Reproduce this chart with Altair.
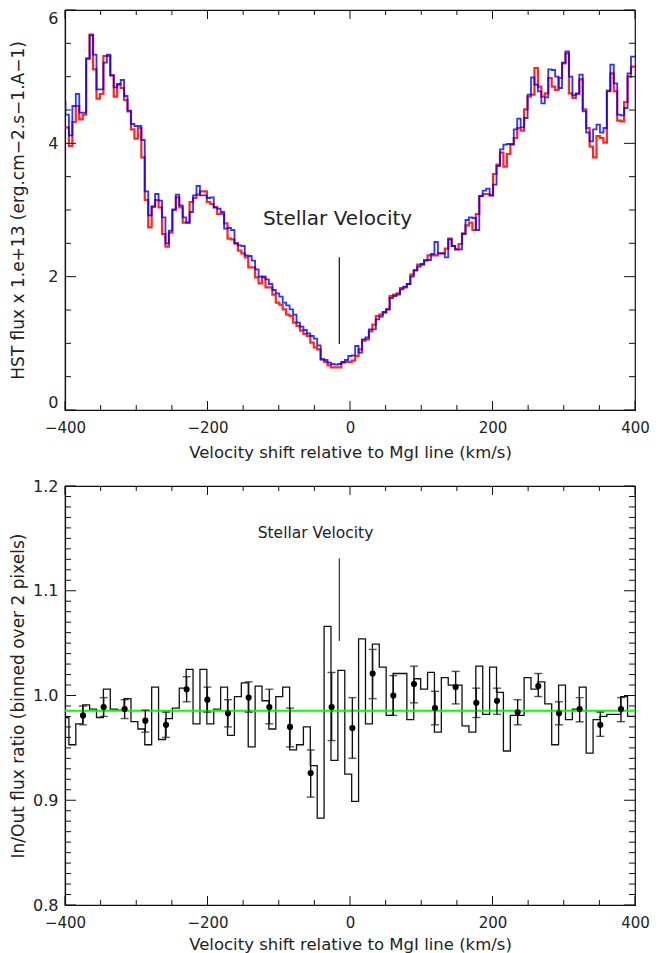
import altair as alt
import pandas as pd

FONT = "DejaVu Sans"

# ---------------- top panel: spectra (step, one value per pixel) ----------------
TOP_VEL_START = -404.2   # left edge of first pixel (km/s)
TOP_PIX = 4.84           # pixel width (km/s)

blue_flux = [4.63, 4.43, 4.12, 4.56, 4.74, 4.46, 4.46, 5.27, 5.62, 5.33,
             4.81, 4.81, 5.21, 5.33, 5.02, 4.84, 4.89, 4.95, 4.71, 4.49,
             4.29, 4.26, 4.26, 4.05, 3.28, 2.92, 3.05, 3.24, 3.14, 2.89,
             2.50, 2.69, 3.01, 3.23, 3.07, 2.89, 2.81, 2.97, 3.22, 3.36,
             3.22, 3.22, 3.18, 3.19, 3.04, 3.02, 2.97, 2.72, 2.73, 2.70,
             2.50, 2.47, 2.46, 2.32, 2.31, 2.24, 2.11, 2.00, 1.99, 1.96,
             1.89, 1.80, 1.75, 1.70, 1.61, 1.57, 1.51, 1.43, 1.31, 1.25,
             1.20, 1.15, 1.11, 1.07, 0.97, 0.76, 0.75, 0.71, 0.69, 0.68,
             0.69, 0.72, 0.75, 0.81, 0.82, 0.96, 0.86, 1.06, 1.09, 1.21,
             1.21, 1.36, 1.40, 1.47, 1.51, 1.68, 1.71, 1.73, 1.81, 1.85,
             1.89, 2.00, 2.09, 2.15, 2.19, 2.24, 2.25, 2.34, 2.52, 2.35,
             2.35, 2.29, 2.56, 2.46, 2.41, 2.41, 2.64, 2.85, 2.89, 2.88,
             2.70, 3.21, 3.29, 3.32, 3.22, 3.38, 3.66, 3.91, 3.98, 3.99,
             3.99, 4.21, 4.37, 4.24, 4.38, 4.73, 4.99, 4.88, 4.78, 4.60,
             4.69, 5.11, 5.10, 5.00, 4.83, 5.21, 5.38, 5.00, 4.72, 4.75,
             5.03, 4.48, 4.16, 4.03, 4.21, 4.28, 4.16, 4.23, 4.78, 5.18,
             4.90, 4.43, 4.42, 4.53, 5.05, 5.30]

red_flux = [4.24, 4.24, 3.96, 4.32, 4.56, 4.36, 4.43, 5.27, 5.63, 5.11,
            4.67, 4.74, 5.31, 5.31, 5.02, 4.70, 4.88, 4.83, 4.65, 4.48,
            4.21, 4.07, 4.23, 3.79, 3.15, 2.74, 3.05, 3.15, 3.04, 2.64,
            2.45, 2.66, 3.00, 3.19, 3.04, 2.81, 2.81, 3.12, 3.18, 3.23,
            3.28, 3.28, 3.12, 3.09, 3.04, 2.94, 2.94, 2.80, 2.57, 2.56,
            2.50, 2.39, 2.35, 2.29, 2.14, 2.14, 1.99, 1.90, 2.00, 1.84,
            1.84, 1.73, 1.61, 1.58, 1.51, 1.43, 1.41, 1.31, 1.26, 1.19,
            1.14, 1.11, 1.01, 0.94, 0.91, 0.76, 0.72, 0.67, 0.64, 0.64,
            0.64, 0.71, 0.72, 0.72, 0.74, 0.81, 0.91, 1.04, 1.06, 1.18,
            1.28, 1.41, 1.43, 1.46, 1.51, 1.71, 1.73, 1.75, 1.83, 1.84,
            1.89, 2.03, 2.10, 2.18, 2.18, 2.25, 2.32, 2.32, 2.32, 2.35,
            2.35, 2.42, 2.57, 2.46, 2.41, 2.49, 2.65, 2.77, 2.81, 2.70,
            2.94, 3.21, 3.24, 3.24, 3.22, 3.54, 3.68, 3.86, 3.65, 3.84,
            3.98, 4.08, 4.23, 4.19, 4.51, 4.70, 4.73, 5.13, 4.85, 4.70,
            4.75, 4.98, 4.85, 4.80, 4.98, 5.20, 5.35, 4.75, 4.68, 4.74,
            4.96, 4.51, 4.23, 3.95, 3.79, 4.11, 4.08, 4.01, 4.79, 5.05,
            4.78, 4.34, 4.33, 4.62, 5.00, 5.15]

# ---------------- bottom panel: ratio binned over 2 pixels ----------------
BOT_VEL_START = -404.2
BOT_BIN = 9.68

ratio_binned = [0.979, 0.953, 0.973, 0.991, 0.987, 0.979, 1.006, 0.987, 0.986, 0.997,
                0.975, 0.968, 0.953, 1.008, 0.958, 0.978, 0.988, 1.007, 1.025, 0.973,
                1.025, 0.973, 0.987, 1.008, 0.962, 0.999, 1.012, 0.951, 1.009, 0.995,
                0.968, 0.999, 1.008, 0.948, 0.953, 0.970, 0.933, 0.883, 1.066, 0.938,
                1.024, 0.925, 0.899, 1.054, 0.973, 1.049, 1.027, 0.981, 1.021, 1.021,
                0.977, 1.016, 1.006, 1.022, 0.965, 1.017, 1.010, 1.010, 0.971, 0.965,
                1.028, 0.982, 1.027, 1.003, 0.947, 0.981, 0.981, 1.017, 1.006, 1.013,
                0.992, 0.953, 1.010, 0.977, 0.987, 1.008, 0.945, 0.977, 0.980, 0.982,
                0.982, 0.999, 0.980]

pt_vel = [-374.7, -345.7, -316.3, -287.3, -258.2, -229.3, -200.2, -171.3, -142.2,
          -113.2, -84.2, -55.2, -25.8, 3.3, 31.8, 60.8, 89.8, 119.3, 148.3, 177.3,
          206.3, 235.3, 264.3, 293.3, 322.3, 351.3, 380.3]
pt_ratio = [0.981, 0.989, 0.987, 0.976, 0.972, 1.006, 0.996, 0.983, 0.998,
            0.989, 0.970, 0.926, 0.989, 0.969, 1.021, 1.000, 1.011, 0.988, 1.008, 0.993,
            0.995, 0.984, 1.009, 0.983, 0.987, 0.972, 0.987]
pt_low = [0.972, 0.980, 0.978, 0.965, 0.960, 0.994, 0.984, 0.970, 0.984,
          0.973, 0.951, 0.903, 0.957, 0.940, 0.997, 0.981, 0.993, 0.972, 0.992, 0.979,
          0.982, 0.972, 0.999, 0.972, 0.975, 0.961, 0.975]
pt_high = [0.990, 0.998, 0.996, 0.986, 0.984, 1.018, 1.008, 0.996, 1.013,
           1.006, 0.988, 0.948, 1.022, 0.998, 1.044, 1.019, 1.028, 1.004, 1.023, 1.007,
           1.007, 0.996, 1.021, 0.994, 0.998, 0.984, 0.998]

MEAN_RATIO = 0.9855
STELLAR_VEL = -15.0

# axis ticks
X_MAJOR = [-400, -200, 0, 200, 400]
X_MINOR = [-350, -300, -250, -150, -100, -50, 50, 100, 150, 250, 300, 350]
TOP_Y_MAJOR = [0, 2, 4, 6]
TOP_Y_MINOR = [0.5, 1.0, 1.5, 2.5, 3.0, 3.5, 4.5, 5.0, 5.5]
BOT_Y_MAJOR = [0.8, 0.9, 1.0, 1.1, 1.2]
BOT_Y_MINOR = [0.81, 0.82, 0.83, 0.84, 0.85, 0.86, 0.87, 0.88, 0.89,
               0.91, 0.92, 0.93, 0.94, 0.95, 0.96, 0.97, 0.98, 0.99,
               1.01, 1.02, 1.03, 1.04, 1.05, 1.06, 1.07, 1.08, 1.09,
               1.11, 1.12, 1.13, 1.14, 1.15, 1.16, 1.17, 1.18, 1.19]

W = 570
H_TOP = 400
H_BOT = 419
XTITLE = "Velocity shift relative to MgI line (km/s)"


def step_frame(start, width, values, yname):
    rows = [{"v": start + i * width, yname: val} for i, val in enumerate(values)]
    rows.append({"v": start + (len(values) + 1) * width, yname: values[-1]})
    return pd.DataFrame(rows)


def make_x_axis(title_y):
    return alt.Axis(values=X_MAJOR, format="d", ticks=False, grid=False, labelFlush=False,
                    labelPadding=10, labelFontSize=15, titleFontSize=16.5,
                    titleY=title_y, titleBaseline="middle")


x_axis_top = make_x_axis(42)
x_axis_bot = make_x_axis(39)
x_scale = alt.Scale(domain=[-400, 400], nice=False, zero=False)


def xtop():
    return alt.X("v:Q", scale=x_scale, axis=x_axis_top, title=XTITLE)


def xbot():
    return alt.X("v:Q", scale=x_scale, axis=x_axis_bot, title=XTITLE)


top_y_axis = alt.Axis(values=TOP_Y_MAJOR, format="d", ticks=False, grid=False,
                      labelPadding=7, labelFontSize=16, labelFlush=True,
                      titleFontSize=17, titleX=-47, titleBaseline="middle")
top_y_scale = alt.Scale(domain=[0, 6], nice=False, zero=False)
TOP_TITLE = "HST flux x 1.e+13 (erg.cm\u22122.s\u22121.A\u22121)"


def ytop(field="f"):
    return alt.Y(field + ":Q", scale=top_y_scale, axis=top_y_axis, title=TOP_TITLE)


bot_y_axis = alt.Axis(values=BOT_Y_MAJOR, format=".1f", ticks=False, grid=False,
                      labelPadding=7, labelFontSize=16, labelFlush=False,
                      titleFontSize=17, titleX=-47, titleBaseline="middle")
bot_y_scale = alt.Scale(domain=[0.8, 1.2], nice=False, zero=False)
BOT_TITLE = "In/Out flux ratio (binned over 2 pixels)"


def ybot(field="r"):
    return alt.Y(field + ":Q", scale=bot_y_scale, axis=bot_y_axis, title=BOT_TITLE)


def tick_layers(xenc_fn, yvals_major, yvals_minor, yenc_fn, yname, height):
    layers = []
    for vals, ln in [(X_MAJOR, 9), (X_MINOR, 5)]:
        d = pd.DataFrame({"v": vals})
        layers.append(alt.Chart(d).mark_rule(color="#111", strokeWidth=1).encode(
            x=xenc_fn(), y=alt.value(height), y2=alt.value(height - ln)))
        layers.append(alt.Chart(d).mark_rule(color="#111", strokeWidth=1).encode(
            x=xenc_fn(), y=alt.value(0), y2=alt.value(ln)))
    for vals, ln in [(yvals_major, 11), (yvals_minor, 6)]:
        d = pd.DataFrame({yname: vals})
        layers.append(alt.Chart(d).mark_rule(color="#111", strokeWidth=1).encode(
            y=yenc_fn(), x=alt.value(0), x2=alt.value(ln)))
        layers.append(alt.Chart(d).mark_rule(color="#111", strokeWidth=1).encode(
            y=yenc_fn(), x=alt.value(W), x2=alt.value(W - ln)))
    return layers


# ---- top chart ----
red_df = step_frame(TOP_VEL_START, TOP_PIX, red_flux, "f")
blue_df = step_frame(TOP_VEL_START, TOP_PIX, blue_flux, "f")

red_line = alt.Chart(red_df).mark_line(interpolate="step-after", color="#ff0000",
                                       strokeWidth=2.2, opacity=0.85, clip=True).encode(
    x=xtop(), y=ytop())
blue_line = alt.Chart(blue_df).mark_line(interpolate="step-after", color="#0000ff",
                                         strokeWidth=1.8, opacity=0.8, clip=True).encode(
    x=xtop(), y=ytop())

top_label = alt.Chart(pd.DataFrame({"v": [-17.5], "f": [2.77], "t": ["Stellar Velocity"]})).mark_text(
    font=FONT, fontSize=20, align="center", baseline="alphabetic", color="#222").encode(
    x=xtop(), y=ytop(), text="t:N")
top_marker = alt.Chart(pd.DataFrame({"v": [STELLAR_VEL], "f": [0.99], "f2": [2.29]})).mark_rule(
    color="#111", strokeWidth=1.2).encode(x=xtop(), y=ytop(), y2="f2:Q")

top = alt.layer(red_line, blue_line, top_label, top_marker,
                *tick_layers(xtop, TOP_Y_MAJOR, TOP_Y_MINOR, ytop, "f", H_TOP)).properties(
    width=W, height=H_TOP)

# ---- bottom chart ----
ratio_df = step_frame(BOT_VEL_START, BOT_BIN, ratio_binned, "r")
ratio_line = alt.Chart(ratio_df).mark_line(interpolate="step-after", color="#111",
                                           strokeWidth=1.3, clip=True).encode(
    x=xbot(), y=ybot())

mean_line = alt.Chart(pd.DataFrame({"r": [MEAN_RATIO]})).mark_rule(
    color="#00ff00", strokeWidth=2).encode(y=ybot())

pts_df = pd.DataFrame({"v": pt_vel, "r": pt_ratio, "lo": pt_low, "hi": pt_high})
err = alt.Chart(pts_df).mark_rule(color="#111", strokeWidth=1.4).encode(
    x=xbot(), y=ybot("lo"), y2="hi:Q")
cap_lo = alt.Chart(pts_df).mark_tick(orient="horizontal", color="#111", size=8, thickness=1.4).encode(
    x=xbot(), y=ybot("lo"))
cap_hi = alt.Chart(pts_df).mark_tick(orient="horizontal", color="#111", size=8, thickness=1.4).encode(
    x=xbot(), y=ybot("hi"))
dots = alt.Chart(pts_df).mark_circle(color="#000", size=38, opacity=1).encode(
    x=xbot(), y=ybot())

bot_label = alt.Chart(pd.DataFrame({"v": [-48.4], "r": [1.150], "t": ["Stellar Velocity"]})).mark_text(
    font=FONT, fontSize=15.5, align="center", baseline="alphabetic", color="#222").encode(
    x=xbot(), y=ybot(), text="t:N")
bot_marker = alt.Chart(pd.DataFrame({"v": [STELLAR_VEL], "r": [1.052], "r2": [1.131]})).mark_rule(
    color="#333", strokeWidth=1.2).encode(x=xbot(), y=ybot(), y2="r2:Q")

bottom = alt.layer(ratio_line, mean_line, err, cap_lo, cap_hi, dots, bot_label, bot_marker,
                   *tick_layers(xbot, BOT_Y_MAJOR, BOT_Y_MINOR, ybot, "r", H_BOT)).properties(
    width=W, height=H_BOT)

chart = alt.vconcat(top, bottom, spacing=76, bounds="flush").properties(
    padding={"left": 0, "top": 0, "right": 5, "bottom": 5}
).configure_view(
    stroke="#111", strokeWidth=1.2
).configure_axis(
    labelFont=FONT, titleFont=FONT, labelColor="#222", titleColor="#222",
    titleFontWeight="normal", domainColor="#111", domainWidth=1.2
)

chart.save("out.html", embed_options={"renderer": "svg", "actions": False})
